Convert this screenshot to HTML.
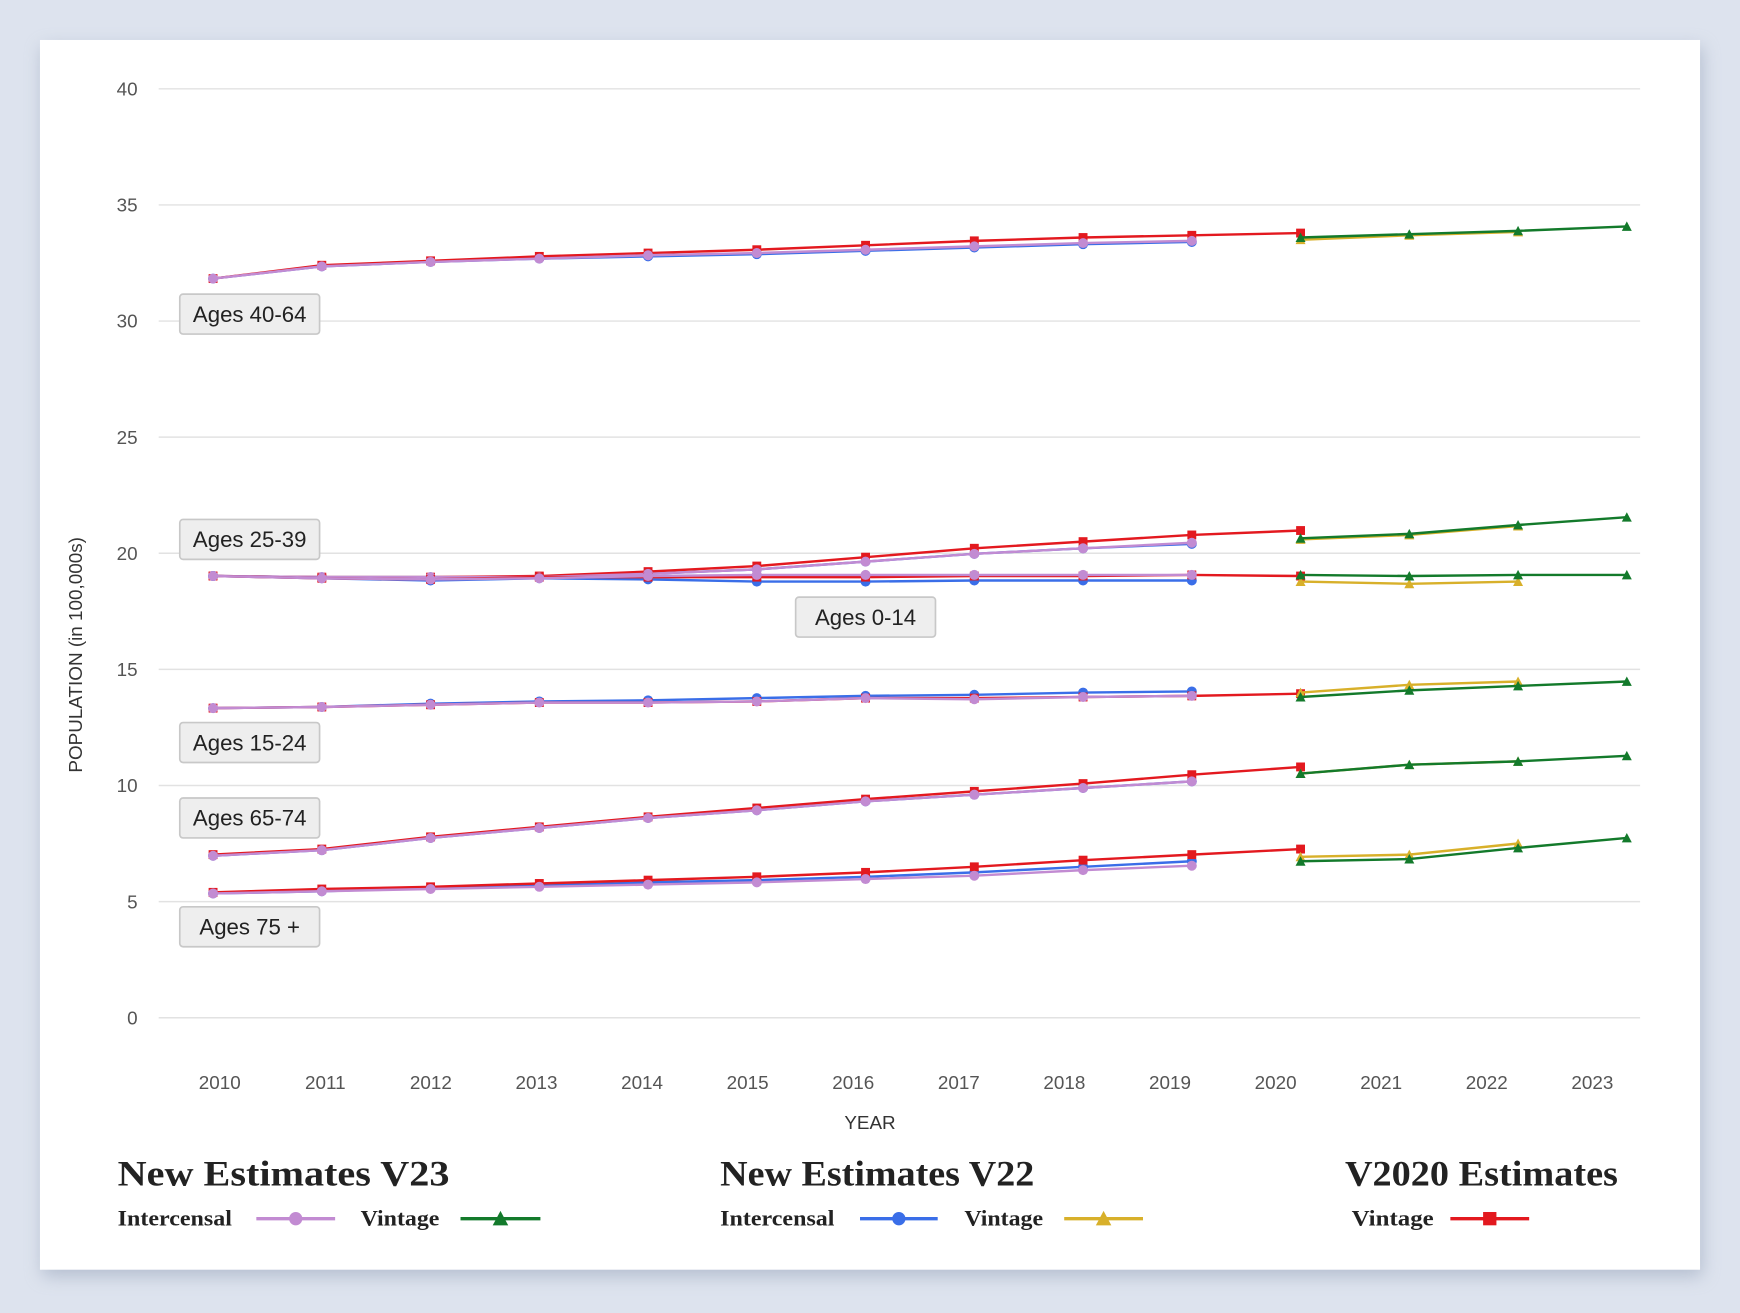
<!DOCTYPE html>
<html><head><meta charset="utf-8"><style>
html,body{margin:0;padding:0;background:#dde3ee;width:1740px;height:1313px;overflow:hidden}
svg{display:block}
</style></head><body>
<svg id="s" width="1740" height="1313" viewBox="0 0 1568 1183" preserveAspectRatio="none" xmlns="http://www.w3.org/2000/svg">
<defs><filter id="sh" x="-5%" y="-5%" width="110%" height="110%"><feGaussianBlur stdDeviation="8"/></filter></defs>
<rect x="0" y="0" width="1568" height="1183" fill="#dde3ee"/>
<rect x="38" y="42" width="1496" height="1108" fill="#9aa6bb" opacity="0.6" filter="url(#sh)"/>
<rect x="36" y="36" width="1496" height="1108" fill="#fff"/>
<g id="grid" font-family="Liberation Sans, sans-serif" font-size="17" fill="#555"></g>
<g id="series"></g>
<g id="labels" font-family="Liberation Sans, sans-serif" font-size="20" fill="#222"></g>
<text x="784" y="1017" text-anchor="middle" font-family="Liberation Sans, sans-serif" font-size="17" fill="#333">YEAR</text>
<text transform="translate(74,590) rotate(-90)" text-anchor="middle" font-family="Liberation Sans, sans-serif" font-size="17" fill="#333">POPULATION (in 100,000s)</text>
<g font-family="Liberation Serif, serif" font-weight="bold" fill="#222">
<text x="106" y="1068" font-size="32" textLength="299" lengthAdjust="spacingAndGlyphs">New Estimates V23</text>
<text x="649" y="1068" font-size="32" textLength="283" lengthAdjust="spacingAndGlyphs">New Estimates V22</text>
<text x="1212" y="1068" font-size="32" textLength="246" lengthAdjust="spacingAndGlyphs">V2020 Estimates</text>
<text x="106" y="1104" font-size="20" textLength="103" lengthAdjust="spacingAndGlyphs">Intercensal</text>
<text x="325" y="1104" font-size="20" textLength="71" lengthAdjust="spacingAndGlyphs">Vintage</text>
<text x="649" y="1104" font-size="20" textLength="103" lengthAdjust="spacingAndGlyphs">Intercensal</text>
<text x="869" y="1104" font-size="20" textLength="71" lengthAdjust="spacingAndGlyphs">Vintage</text>
<text x="1218" y="1104" font-size="20" textLength="74" lengthAdjust="spacingAndGlyphs">Vintage</text>
</g>
<g id="leg"></g>
</svg>
<script>
var NS="http://www.w3.org/2000/svg";
function el(p,t,a,txt){var e=document.createElementNS(NS,t);for(var k in a)e.setAttribute(k,a[k]);if(txt!=null)e.textContent=txt;document.getElementById(p).appendChild(e);return e;}
for(var v=0;v<=40;v+=5){var y=917-v*20.925;el("grid","line",{x1:143,x2:1478,y1:y,y2:y,stroke:"#e2e2e2","stroke-width":1.3});el("grid","text",{x:124,y:y+6,"text-anchor":"end"},v);}
var yrs=[2010,2011,2012,2013,2014,2015,2016,2017,2018,2019,2020,2021,2022,2023];
for(var i=0;i<14;i++)el("grid","text",{x:198+i*95.15,y:981,"text-anchor":"middle"},yrs[i]);
function X(i){return 192+i*98;}
var C={p:"#c28bd2",b:"#3a6ee8",r:"#e3191f",g:"#137a2b",y:"#d8b02a"};
function mark(par,type,col,x,y){
 if(type=="c")el(par,"circle",{cx:x,cy:y,r:4.5,fill:col});
 else if(type=="s")el(par,"rect",{x:x-4,y:y-4,width:8,height:8,fill:col});
 else el(par,"polygon",{points:(x-4.5)+","+(y+4)+" "+(x+4.5)+","+(y+4)+" "+x+","+(y-4.5),fill:col});
}
function ser(col,type,start,ys){var pts=ys.map(function(y,i){return X(start+i)+","+y;}).join(" ");
 el("series","polyline",{points:pts,fill:"none",stroke:col,"stroke-width":2.2});
 ys.forEach(function(y,i){mark("series",type,col,X(start+i),y);});}
var D=[
 {b:[251,240,236,233,231,229,226,223,220,218],p:[251,240,236,233,230,228,225,222,219,217],y:[216,212,209],g:[214,211,208,204],r:[251,239,235,231,228,225,221,217,214,212,210]},
 {b:[519,520,520,520,517,513,506,499,494,490],p:[519,520,520,520,517,513,506,499,494,489],y:[486,482,474],g:[485,481,473,466],r:[519,520,520,519,515,510,502,494,488,482,478]},
 {b:[519,521,523,521,522,524,524,523,523,523],p:[519,521,522,521,519,518,518,518,518,518],y:[524,526,524],g:[518,519,518,518],r:[519,521,522,520,520,520,520,519,519,518,519]},
 {b:[638,637,634,632,631,629,627,626,624,623],p:[638,637,635,633,633,632,629,630,628,627],y:[624,617,614],g:[628,622,618,614],r:[638,637,635,633,633,632,629,629,628,627,625]},
 {b:[771,766,755,746,737,730,722,716,710,704],p:[771,766,755,746,737,730,722,716,710,704],y:[697,689,686],g:[697,689,686,681],r:[770,765,754,745,736,728,720,713,706,698,691]},
 {b:[805,803,800,798,795,793,790,786,781,776],p:[805,803,801,799,797,795,792,789,784,780],y:[772,770,760],g:[776,774,764,755],r:[804,801,799,796,793,790,786,781,775,770,765]}
];
D.forEach(function(d){ser(C.b,"c",0,d.b);ser(C.r,"s",0,d.r);ser(C.p,"c",0,d.p);ser(C.y,"t",10,d.y);ser(C.g,"t",10,d.g);});
[["Ages 40-64",162,265],["Ages 25-39",162,468],["Ages 0-14",717,538],["Ages 15-24",162,651],["Ages 65-74",162,719],["Ages 75 +",162,817]].forEach(function(l){
 el("labels","rect",{x:l[1],y:l[2],width:126,height:36,rx:3,fill:"#eeeeee",stroke:"#c8c8c8","stroke-width":1.5});
 el("labels","text",{x:l[1]+63,y:l[2]+25,"text-anchor":"middle"},l[0]);});
[[231,302,C.p,"c"],[415,487,C.g,"t"],[775,845,C.b,"c"],[959,1030,C.y,"t"],[1307,1378,C.r,"s"]].forEach(function(l){
 el("leg","line",{x1:l[0],x2:l[1],y1:1098,y2:1098,stroke:l[2],"stroke-width":3});
 var m=(l[0]+l[1])/2;
 if(l[3]=="c")el("leg","circle",{cx:m,cy:1098,r:6,fill:l[2]});
 else if(l[3]=="s")el("leg","rect",{x:m-6,y:1092,width:12,height:12,fill:l[2]});
 else el("leg","polygon",{points:(m-7)+",1104 "+(m+7)+",1104 "+m+",1091",fill:l[2]});
});
</script>
</body></html>
